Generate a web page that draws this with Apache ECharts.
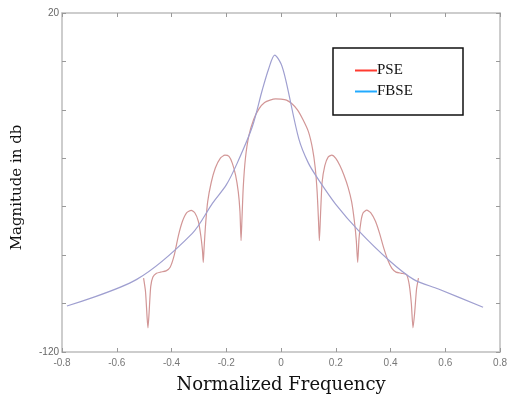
<!DOCTYPE html>
<html>
<head>
<meta charset="utf-8">
<script src="https://cdn.jsdelivr.net/npm/echarts@6/dist/echarts.min.js"></script>
<style>
html, body { margin: 0; padding: 0; background: #fff; }
#main { width: 510px; height: 399px; }
</style>
</head>
<body>
<div id="main"></div>
<script>
// 数据：PSE 与 FBSE 的幅度谱
var pseFreq = [-0.502, -0.495, -0.489, -0.486, -0.482, -0.476, -0.468, -0.455, -0.44, -0.42, -0.405, -0.39, -0.375, -0.36, -0.345, -0.328, -0.315, -0.302, -0.293, -0.287, -0.284, -0.281, -0.276, -0.268, -0.255, -0.24, -0.222, -0.205, -0.19, -0.178, -0.166, -0.156, -0.15, -0.146, -0.143, -0.138, -0.13, -0.118, -0.1, -0.08, -0.06, -0.04, -0.02, 0, 0.02, 0.04, 0.06, 0.08, 0.1, 0.115, 0.125, 0.132, 0.137, 0.14, 0.144, 0.15, 0.16, 0.172, 0.185, 0.2, 0.215, 0.23, 0.245, 0.258, 0.268, 0.275, 0.28, 0.285, 0.292, 0.3, 0.313, 0.328, 0.345, 0.36, 0.375, 0.39, 0.405, 0.42, 0.44, 0.458, 0.468, 0.476, 0.482, 0.488, 0.495, 0.502];
var pseMag = [-89.5, -95, -106, -110, -104, -93, -89, -87.5, -87, -86.5, -85, -80, -72, -66, -62.5, -61.5, -62.5, -66, -72, -78, -83, -77, -68, -58, -50, -44, -40, -38.7, -39.2, -42, -47, -54, -62, -74, -66, -52, -40, -31, -24, -19.5, -17, -16, -15.5, -15.6, -16, -17.5, -20, -24, -29, -36, -44, -54, -66, -74, -64, -50, -43, -39.5, -38.7, -40, -43, -47, -52, -58, -66, -74, -83, -73, -66, -62.5, -61.4, -62.5, -66, -71, -77, -82, -85.5, -87, -87.5, -88, -92, -100, -110, -104, -94, -89.5];

var fbseFreq = [-0.782, -0.527, -0.324, -0.25, -0.2, -0.16, -0.105, -0.069, -0.045, -0.023, 0, 0.018, 0.065, 0.1, 0.138, 0.2, 0.284, 0.393, 0.484, 0.575, 0.738];
var fbseMag = [-101, -90, -71, -58.5, -51, -42, -27, -12, -3, 2.6, -1, -8, -32, -42, -49, -59, -70, -82, -90, -94, -101.5];

var shownYLabels = [20, -120];

function zip(xs, ys) {
	return xs.map(function(x, i) { return [x, ys[i]]; });
}

var myChart = echarts.init(document.getElementById('main'));

var axisLine = { show: true, onZero: false, lineStyle: { color: '#bdbdbd', width: 1.5 } };
var axisTick = { show: true, inside: true, length: 4, lineStyle: { color: '#999' } };

var option = {
	backgroundColor: '#fff',
	animation: false,
	grid: { left: 62, right: 8, top: 13, bottom: 47 },
	legend: {
		left: 350,
		top: 58,
		orient: 'vertical',
		itemGap: 6,
		itemWidth: 22,
		itemHeight: 2,
		icon: 'rect',
		textStyle: { fontFamily: 'Liberation Serif', fontSize: 15, color: '#111', padding: [0, 0, 0, -5] },
		data: [
			{ name: 'PSE', itemStyle: { color: '#ff3b30' } },
			{ name: 'FBSE', itemStyle: { color: '#22aaff' } }
		]
	},
	graphic: [{
		type: 'rect',
		shape: { x: 333, y: 48, width: 130, height: 67 },
		style: { fill: null, stroke: '#111', lineWidth: 1.5 },
		z: 100
	}],
	xAxis: [{
		type: 'value',
		min: -0.8,
		max: 0.8,
		interval: 0.2,
		name: 'Normalized Frequency',
		nameLocation: 'middle',
		nameGap: 24,
		nameTextStyle: { fontFamily: 'DejaVu Serif', fontSize: 18, color: '#111' },
		axisLine: axisLine,
		axisTick: axisTick,
		splitLine: { show: false },
		axisLabel: {
			color: '#777',
			fontSize: 10,
			margin: 6,
			formatter: function(v) { return Math.abs(v) < 1e-9 ? '0' : v.toFixed(1); }
		}
	}, {
		type: 'value',
		position: 'top',
		min: -0.8,
		max: 0.8,
		interval: 0.2,
		axisLine: axisLine,
		axisTick: axisTick,
		splitLine: { show: false },
		axisLabel: { show: false }
	}],
	yAxis: [{
		type: 'value',
		min: -120,
		max: 20,
		interval: 20,
		name: 'Magnitude in db',
		nameLocation: 'middle',
		nameGap: 37,
		nameTextStyle: { fontFamily: 'DejaVu Serif', fontSize: 15, color: '#111', padding: [0, 0, 0, -10] },
		axisLine: axisLine,
		axisTick: axisTick,
		splitLine: { show: false },
		axisLabel: {
			color: '#666',
			fontSize: 10,
			margin: 3,
			formatter: function(v) { return shownYLabels.indexOf(v) >= 0 ? String(v) : ''; }
		}
	}, {
		type: 'value',
		position: 'right',
		min: -120,
		max: 20,
		interval: 20,
		axisLine: axisLine,
		axisTick: axisTick,
		splitLine: { show: false },
		axisLabel: { show: false }
	}],
	series: [{
		name: 'PSE',
		type: 'line',
		data: zip(pseFreq, pseMag),
		showSymbol: false,
		smooth: 0.2,
		lineStyle: { color: '#d29696', width: 1.2 },
		itemStyle: { color: '#ff3b30' }
	}, {
		name: 'FBSE',
		type: 'line',
		data: zip(fbseFreq, fbseMag),
		showSymbol: false,
		smooth: 0.3,
		lineStyle: { color: '#9f9fd0', width: 1.2 },
		itemStyle: { color: '#22aaff' }
	}]
};

myChart.setOption(option);
</script>
</body>
</html>
